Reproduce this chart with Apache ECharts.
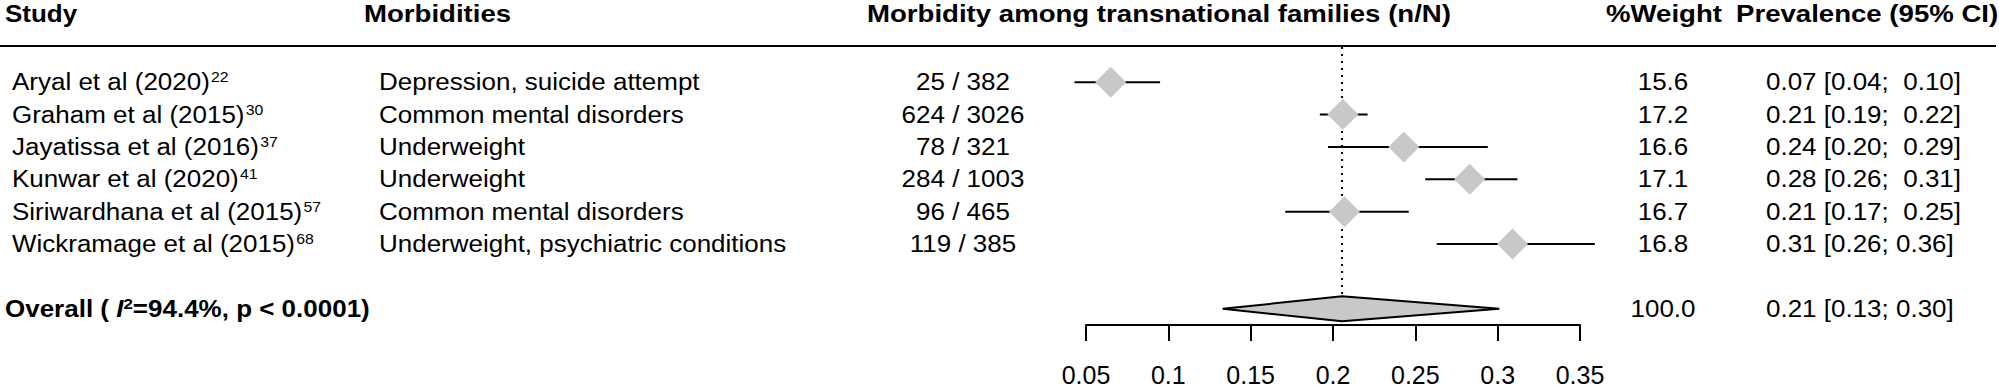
<!DOCTYPE html>
<html>
<head>
<meta charset="utf-8">
<script src="https://cdn.jsdelivr.net/npm/echarts@6/dist/echarts.min.js"></script>
<style>
html,body{margin:0;padding:0;background:#fff;}
#c{width:1999px;height:387px;}
</style>
</head>
<body>
<div id="c"></div>
<script>
// ---------------- data ----------------
const studies = ['Aryal et al (2020)', 'Graham et al (2015)', 'Jayatissa et al (2016)', 'Kunwar et al (2020)', 'Siriwardhana et al (2015)', 'Wickramage et al (2015)'];
const studyRefs = ['22', '30', '37', '41', '57', '68'];
const morbidities = ['Depression, suicide attempt', 'Common mental disorders', 'Underweight', 'Underweight', 'Common mental disorders', 'Underweight, psychiatric conditions'];
const events = [25, 624, 78, 284, 96, 119];
const totals = [382, 3026, 321, 1003, 465, 385];
const weights = ['15.6', '17.2', '16.6', '17.1', '16.7', '16.8'];
const prevalence = [0.065, 0.206, 0.243, 0.283, 0.207, 0.309];
const ciLower = [0.043, 0.192, 0.197, 0.256, 0.171, 0.263];
const ciUpper = [0.095, 0.221, 0.294, 0.312, 0.246, 0.359];
const prevalenceText = ['0.07 [0.04;  0.10]', '0.21 [0.19;  0.22]', '0.24 [0.20;  0.29]', '0.28 [0.26;  0.31]', '0.21 [0.17;  0.25]', '0.31 [0.26; 0.36]'];
const overallEstimate = 0.2055;
const overallLower = 0.133;
const overallUpper = 0.301;
const overallWeight = '100.0';
const overallText = '0.21 [0.13; 0.30]';
const heterogeneityI2 = '94.4%';
const heterogeneityP = '< 0.0001';
const columnHeaders = ['Study', 'Morbidities', 'Morbidity among transnational families (n/N)', '%Weight', 'Prevalence (95% CI)'];
const xMin = 0.05, xMax = 0.35, xStep = 0.05;

// ---------------- layout / style ----------------
const FONT = '"Liberation Sans", Arial, Helvetica, sans-serif';
const FS = 23;
const SX = 1.13;
const SX_HEAD = 1.2;
const GREY = '#c8c8c8';
const HEADER_Y = 14;
const HEADER_RULE_Y = 46;
const COL = { study: 12, overall: 5, morb: 379, nN: 963, weight: 1663, prev: 1766 };
const HEAD = { study: 5, morb: 364, effect: 867, weight: 1664, prev: 1736 };
const DIAMOND_HALF_H = 12.5;

const rowKeys = studies.map((_, i) => 'study' + i).concat(['spacer', 'overall']);
const OVERALL_ROW = rowKeys.length - 1;

function textEl(x, y, text, o, sx) {
  return {
    type: 'text', x: x, y: y, scaleX: sx || SX, silent: true,
    style: Object.assign({
      text: text, fill: '#000', fontFamily: FONT, fontSize: FS,
      fontWeight: 'normal', align: 'left', verticalAlign: 'middle'
    }, o || {})
  };
}

const studyRich = {
  n: { fontFamily: FONT, fontSize: FS, lineHeight: 24, verticalAlign: 'middle', fill: '#000' },
  s: { fontFamily: FONT, fontSize: 14, lineHeight: 14, verticalAlign: 'top', padding: [0, 0, 0, 1], fill: '#000' }
};
const overallRich = {
  b: { fontFamily: FONT, fontSize: FS, fontWeight: 'bold', lineHeight: 24, verticalAlign: 'middle', fill: '#000' },
  i: { fontFamily: FONT, fontSize: FS, fontWeight: 'bold', fontStyle: 'italic', lineHeight: 24, verticalAlign: 'middle', fill: '#000' },
  s: { fontFamily: FONT, fontSize: 15, fontWeight: 'bold', lineHeight: 15, verticalAlign: 'top', padding: [0, 0, 0, 0], fill: '#000' }
};

const tableData = studies.map((_, i) => [xMin, i]).concat([[xMin, OVERALL_ROW]]);

const chart = echarts.init(document.getElementById('c'), null, { renderer: 'svg', width: 1999, height: 387 });

chart.setOption({
  animation: false,
  backgroundColor: '#fff',
  grid: { left: 1086, width: 494, top: 66, height: 261, containLabel: false },
  xAxis: {
    type: 'value', min: xMin, max: xMax, interval: xStep,
    axisLine: { show: true, lineStyle: { color: '#000', width: 2 } },
    axisTick: { show: true, length: 16, lineStyle: { color: '#000', width: 2 } },
    axisLabel: { color: '#000', fontFamily: FONT, fontSize: 25, lineHeight: 25, margin: 37, showMinLabel: true, showMaxLabel: true },
    splitLine: { show: false }
  },
  yAxis: { type: 'category', data: rowKeys, inverse: true, show: false },
  graphic: [
    { type: 'line', silent: true, shape: { x1: 0, y1: HEADER_RULE_Y, x2: 1996, y2: HEADER_RULE_Y }, style: { stroke: '#000', lineWidth: 2 } },
    textEl(HEAD.study, HEADER_Y, columnHeaders[0], { fontWeight: 'bold' }, SX),
    textEl(HEAD.morb, HEADER_Y, columnHeaders[1], { fontWeight: 'bold' }, SX_HEAD),
    textEl(HEAD.effect, HEADER_Y, columnHeaders[2], { fontWeight: 'bold' }, SX_HEAD),
    textEl(HEAD.weight, HEADER_Y, columnHeaders[3], { fontWeight: 'bold', align: 'center' }, SX_HEAD),
    textEl(HEAD.prev, HEADER_Y, columnHeaders[4], { fontWeight: 'bold' }, SX_HEAD)
  ],
  series: [
    {
      // reference (pooled estimate) dotted line
      type: 'custom', clip: false, z: 1,
      data: [[overallEstimate, OVERALL_ROW]],
      encode: { x: 0, y: 1 },
      renderItem: function (params, api) {
        const p = api.coord([api.value(0), api.value(1)]);
        return {
          type: 'line', silent: true,
          shape: { x1: p[0], y1: HEADER_RULE_Y + 1, x2: p[0], y2: p[1] - DIAMOND_HALF_H },
          style: { stroke: '#000', lineWidth: 2, lineDash: [2, 5] }
        };
      }
    },
    {
      // confidence intervals
      type: 'custom', clip: false, z: 2,
      data: studies.map((_, i) => [ciLower[i], ciUpper[i], i]),
      encode: { x: [0, 1], y: 2 },
      renderItem: function (params, api) {
        const a = api.coord([api.value(0), api.value(2)]);
        const b = api.coord([api.value(1), api.value(2)]);
        return {
          type: 'line', silent: true,
          shape: { x1: a[0], y1: a[1], x2: b[0], y2: b[1] },
          style: { stroke: '#000', lineWidth: 2 }
        };
      }
    },
    {
      // study estimates
      type: 'scatter', z: 3, silent: true,
      symbol: 'diamond', symbolSize: [31, 31],
      itemStyle: { color: GREY, opacity: 1 },
      data: prevalence.map((p, i) => [p, i])
    },
    {
      // overall diamond
      type: 'custom', clip: false, z: 3,
      data: [[overallLower, overallEstimate, overallUpper, OVERALL_ROW]],
      encode: { x: [0, 1, 2], y: 3 },
      renderItem: function (params, api) {
        const r = api.value(3);
        const lo = api.coord([api.value(0), r]);
        const mid = api.coord([api.value(1), r]);
        const hi = api.coord([api.value(2), r]);
        return {
          type: 'polygon', silent: true,
          shape: { points: [lo, [mid[0], mid[1] - DIAMOND_HALF_H], hi, [mid[0], mid[1] + DIAMOND_HALF_H]] },
          style: { fill: GREY, stroke: '#000', lineWidth: 2, lineJoin: 'miter' }
        };
      }
    },
    {
      // text table
      type: 'custom', clip: false, z: 4,
      data: tableData,
      encode: { x: 0, y: 1 },
      renderItem: function (params, api) {
        const r = api.value(1);
        const y = api.coord([xMin, r])[1];
        if (r === OVERALL_ROW) {
          return {
            type: 'group', children: [
              textEl(COL.overall, y, '{b|Overall ( }{i|I}{s|2}{b|=' + heterogeneityI2 + ', p ' + heterogeneityP + ')}', { rich: overallRich }),
              textEl(COL.weight, y, overallWeight, { align: 'center' }),
              textEl(COL.prev, y, overallText)
            ]
          };
        }
        const i = r;
        return {
          type: 'group', children: [
            textEl(COL.study, y, '{n|' + studies[i] + '}{s|' + studyRefs[i] + '}', { rich: studyRich }),
            textEl(COL.morb, y, morbidities[i]),
            textEl(COL.nN, y, events[i] + ' / ' + totals[i], { align: 'center' }),
            textEl(COL.weight, y, weights[i], { align: 'center' }),
            textEl(COL.prev, y, prevalenceText[i])
          ]
        };
      }
    }
  ]
});
</script>
</body>
</html>
